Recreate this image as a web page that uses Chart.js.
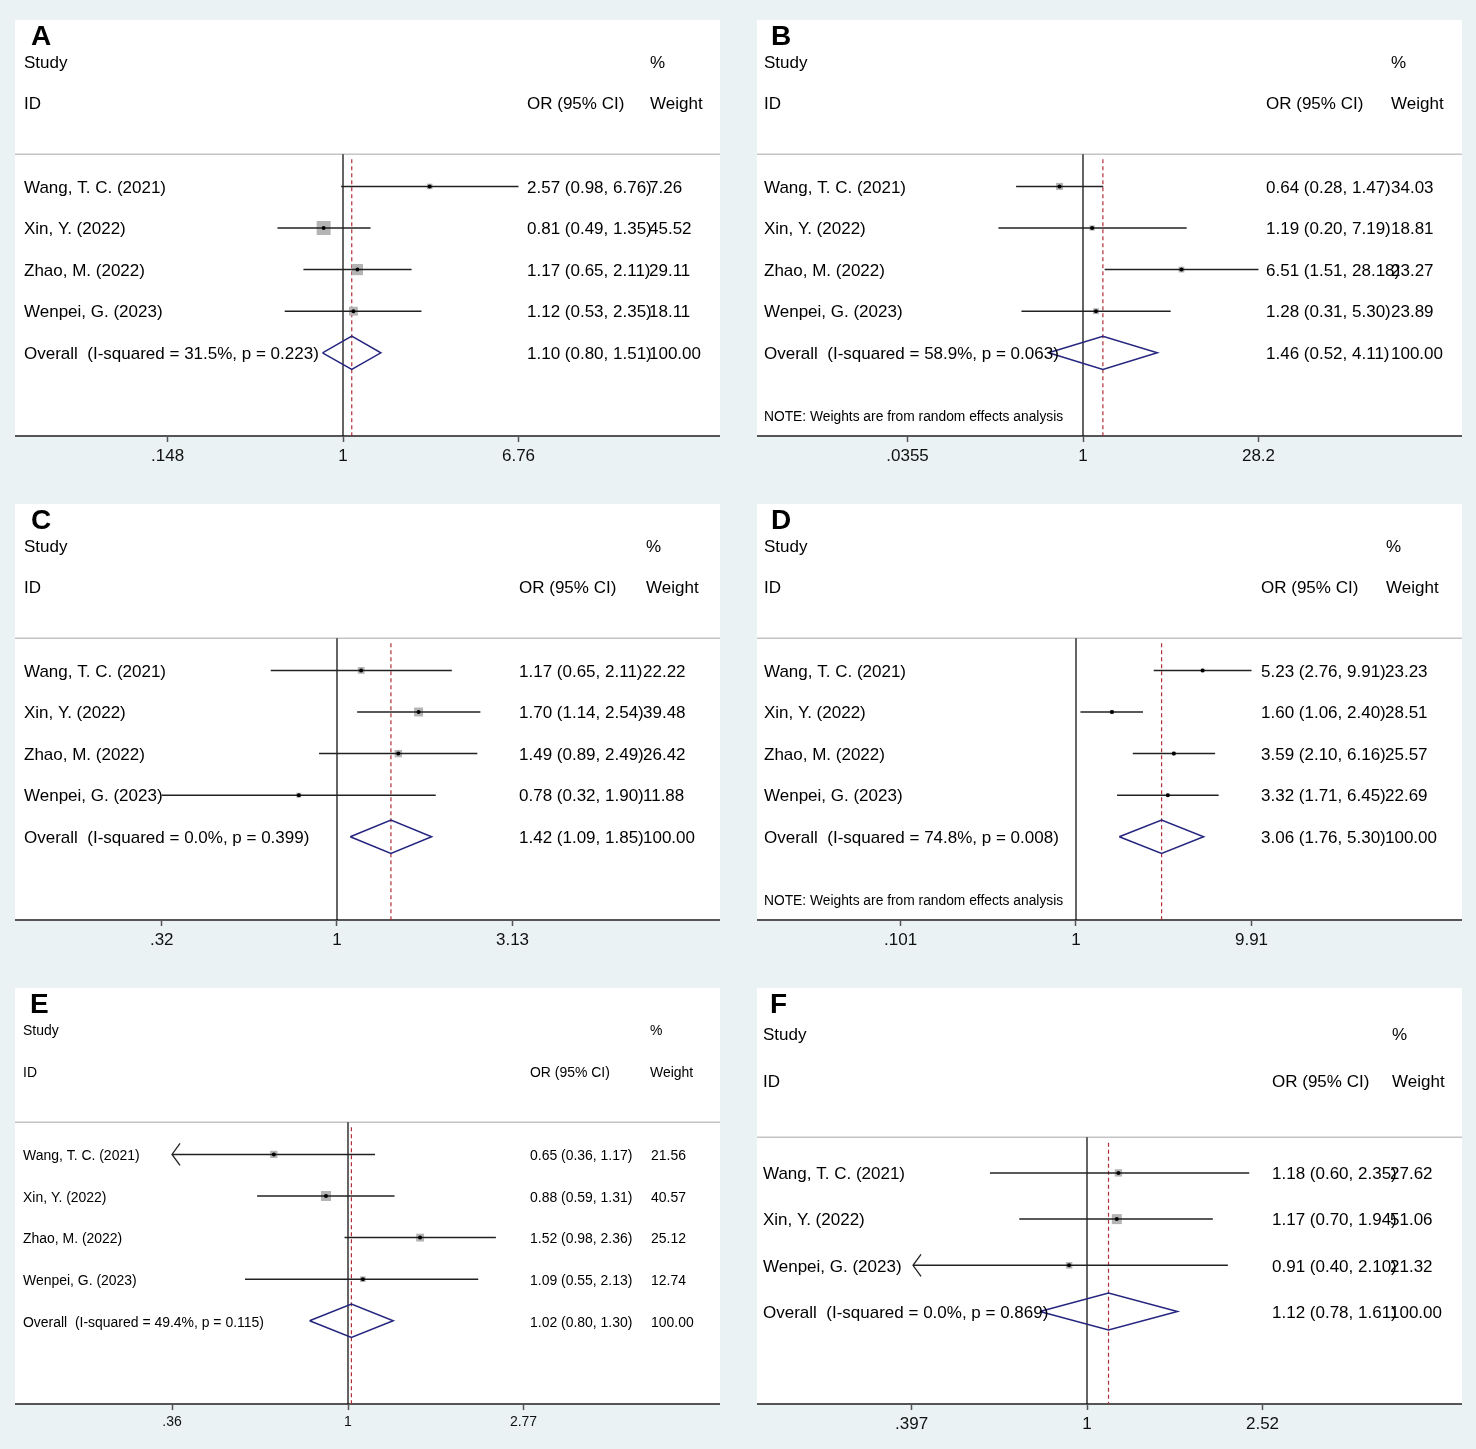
<!DOCTYPE html>
<html>
<head>
<meta charset="utf-8">
<title>Forest plots A-F</title>
<script src="https://cdn.jsdelivr.net/npm/chart.js@4.4.1/dist/chart.umd.min.js"></script>
<style>
  body { margin: 0; background: #eaf2f3; width: 1476px; height: 1449px; position: relative; overflow: hidden; }
  canvas { position: absolute; }
</style>
</head>
<body>
<script>
// ---- data ----
const panelNames = ['A', 'B', 'C', 'D', 'E', 'F'];
const studies = ['Wang, T. C. (2021)', 'Xin, Y. (2022)', 'Zhao, M. (2022)', 'Wenpei, G. (2023)'];
const studiesF = ['Wang, T. C. (2021)', 'Xin, Y. (2022)', 'Wenpei, G. (2023)'];
const panelStudies = [studies, studies, studies, studies, studies, studiesF];

const orValues = [
  [2.57, 0.81, 1.17, 1.12],
  [0.64, 1.19, 6.51, 1.28],
  [1.17, 1.70, 1.49, 0.78],
  [5.23, 1.60, 3.59, 3.32],
  [0.65, 0.88, 1.52, 1.09],
  [1.18, 1.17, 0.91]
];
const ciLower = [
  [0.98, 0.49, 0.65, 0.53],
  [0.28, 0.20, 1.51, 0.31],
  [0.65, 1.14, 0.89, 0.32],
  [2.76, 1.06, 2.10, 1.71],
  [0.36, 0.59, 0.98, 0.55],
  [0.60, 0.70, 0.40]
];
const ciUpper = [
  [6.76, 1.35, 2.11, 2.35],
  [1.47, 7.19, 28.18, 5.30],
  [2.11, 2.54, 2.49, 1.90],
  [9.91, 2.40, 6.16, 6.45],
  [1.17, 1.31, 2.36, 2.13],
  [2.35, 1.94, 2.10]
];
const weights = [
  [7.26, 45.52, 29.11, 18.11],
  [34.03, 18.81, 23.27, 23.89],
  [22.22, 39.48, 26.42, 11.88],
  [23.23, 28.51, 25.57, 22.69],
  [21.56, 40.57, 25.12, 12.74],
  [27.62, 51.06, 21.32]
];
const overallOr = [1.10, 1.46, 1.42, 3.06, 1.02, 1.12];
const overallLower = [0.80, 0.52, 1.09, 1.76, 0.80, 0.78];
const overallUpper = [1.51, 4.11, 1.85, 5.30, 1.30, 1.61];
const iSquared = ['31.5%', '58.9%', '0.0%', '74.8%', '49.4%', '0.0%'];
const pHet = ['0.223', '0.063', '0.399', '0.008', '0.115', '0.869'];
const randomEffects = [false, true, false, true, false, false];
const tickValues = [[0.148, 1, 6.76], [0.0355, 1, 28.2], [0.32, 1, 3.13], [0.101, 1, 9.91], [0.36, 1, 2.77], [0.397, 1, 2.52]];
const tickLabels = [['.148', '1', '6.76'], ['.0355', '1', '28.2'], ['.32', '1', '3.13'], ['.101', '1', '9.91'], ['.36', '1', '2.77'], ['.397', '1', '2.52']];
// studies whose lower CI runs past the axis (drawn with an arrow)
const arrowLow = [[], [], [], [], [0], [2]];

// ---- layout / style ----
const PANEL_W = 705, PANEL_H = 416, AXIS_H = 44, TICK_GAP = 175.5, SEP = -0.77;
const TEXT_DY = 1.5;
const FONT = '"Liberation Sans", Arial, sans-serif';
const layout = [
  { left: 15,  top: 20,  onePx: 328, nameX: 9, valX: 512, wtX: 634, headX: 635, size: 17,   sx: 1,   tick: 17, box: 2.07 },
  { left: 757, top: 20,  onePx: 326, nameX: 7, valX: 509, wtX: 634, headX: 634, size: 17,   sx: 1,   tick: 17, box: 1.2 },
  { left: 15,  top: 504, onePx: 322, nameX: 9, valX: 504, wtX: 628, headX: 631, size: 17,   sx: 1,   tick: 17, box: 1.43 },
  { left: 757, top: 504, onePx: 319, nameX: 7, valX: 504, wtX: 628, headX: 629, size: 17,   sx: 1,   tick: 17, box: 0.75 },
  { left: 15,  top: 988, onePx: 333, nameX: 8, valX: 515, wtX: 636, headX: 635, size: 15.5, sx: 0.9, tick: 14, box: 1.57 },
  { left: 757, top: 988, onePx: 330, nameX: 6, valX: 515, wtX: 633, headX: 635, size: 17,   sx: 1,   tick: 17, box: 1.4 }
];

function drawText(ctx, str, x, y, size, sx, bold) {
  ctx.save();
  ctx.font = (bold ? 'bold ' : '') + size + 'px ' + FONT;
  ctx.fillStyle = '#000';
  ctx.textBaseline = 'middle';
  ctx.translate(x, y + TEXT_DY);
  ctx.scale(sx, 1);
  ctx.fillText(str, 0, 0);
  ctx.restore();
}

const ci = (o, lo, hi) => `${o.toFixed(2)} (${lo.toFixed(2)}, ${hi.toFixed(2)})`;

const forestText = {
  id: 'forestText',
  beforeDraw(chart) {
    const { ctx, chartArea: a } = chart;
    ctx.save();
    ctx.fillStyle = '#fff';
    ctx.fillRect(a.left, a.top, a.right - a.left, a.bottom - a.top);
    const y = chart.scales.y.getPixelForValue(SEP);
    ctx.strokeStyle = '#c4c4c4';
    ctx.lineWidth = 1.5;
    ctx.beginPath();
    ctx.moveTo(a.left, y);
    ctx.lineTo(a.right, y);
    ctx.stroke();
    ctx.restore();
  },
  afterDatasetsDraw(chart, args, opts) {
    const p = opts.panel, L = layout[p];
    const { ctx, chartArea: a } = chart;
    const xs = chart.scales.x, ys = chart.scales.y;
    const n = orValues[p].length;
    const x0 = a.left;

    drawText(ctx, panelNames[p], x0 + L.nameX + 7, a.top + 15.5, 28, 1, true);
    drawText(ctx, 'Study', x0 + L.nameX, ys.getPixelForValue(-3), L.size, L.sx);
    drawText(ctx, '%', x0 + L.headX, ys.getPixelForValue(-3), L.size, L.sx);
    drawText(ctx, 'ID', x0 + L.nameX, ys.getPixelForValue(-2), L.size, L.sx);
    drawText(ctx, 'OR (95% CI)', x0 + L.valX, ys.getPixelForValue(-2), L.size, L.sx);
    drawText(ctx, 'Weight', x0 + L.headX, ys.getPixelForValue(-2), L.size, L.sx);

    panelStudies[p].forEach((name, i) => {
      const y = ys.getPixelForValue(i);
      drawText(ctx, name, x0 + L.nameX, y, L.size, L.sx);
      drawText(ctx, ci(orValues[p][i], ciLower[p][i], ciUpper[p][i]), x0 + L.valX, y, L.size, L.sx);
      drawText(ctx, weights[p][i].toFixed(2), x0 + L.wtX, y, L.size, L.sx);
    });
    const yo = ys.getPixelForValue(n);
    drawText(ctx, `Overall  (I-squared = ${iSquared[p]}, p = ${pHet[p]})`, x0 + L.nameX, yo, L.size, L.sx);
    drawText(ctx, ci(overallOr[p], overallLower[p], overallUpper[p]), x0 + L.valX, yo, L.size, L.sx);
    drawText(ctx, '100.00', x0 + L.wtX, yo, L.size, L.sx);

    if (randomEffects[p]) {
      drawText(ctx, 'NOTE: Weights are from random effects analysis', x0 + L.nameX, ys.getPixelForValue(n + 1.5), 14, 0.985);
    }

    // open arrow heads where the CI is cut by the axis
    ctx.save();
    ctx.strokeStyle = '#222';
    ctx.lineWidth = 1.3;
    arrowLow[p].forEach(i => {
      const tx = xs.getPixelForValue(ciLower[p][i]);
      const ty = ys.getPixelForValue(i);
      ctx.beginPath();
      ctx.moveTo(tx + 8, ty - 11);
      ctx.lineTo(tx, ty);
      ctx.lineTo(tx + 8, ty + 11);
      ctx.stroke();
    });
    ctx.restore();
  }
};

function buildDatasets(p) {
  const L = layout[p];
  const n = orValues[p].length, yMax = n + 2;
  const o = overallOr[p];
  const points = orValues[p].map((v, i) => ({ x: v, y: i }));
  const ds = [];
  ds.push({ order: 1, data: points, pointStyle: 'circle', pointRadius: 2, backgroundColor: '#000', borderWidth: 0 });
  ds.push({
    order: 2, showLine: true, pointRadius: 0, borderColor: '#25257f', borderWidth: 1.5,
    data: [
      { x: overallLower[p], y: n }, { x: o, y: n - 0.4 }, { x: overallUpper[p], y: n },
      { x: o, y: n + 0.4 }, { x: overallLower[p], y: n }
    ]
  });
  orValues[p].forEach((v, i) => {
    ds.push({
      order: 3, showLine: true, pointRadius: 0, borderColor: '#222', borderWidth: 1.5,
      data: [{ x: ciLower[p][i], y: i }, { x: ciUpper[p][i], y: i }]
    });
  });
  ds.push({
    order: 4, data: points, pointStyle: 'rect', borderWidth: 0, backgroundColor: '#b4b4b4',
    pointRadius: weights[p].map(w => L.box * Math.sqrt(w) / Math.SQRT2)
  });
  ds.push({
    order: 5, showLine: true, pointRadius: 0, borderColor: '#b0303a', borderWidth: 1.2, borderDash: [4, 3],
    data: [{ x: o, y: SEP + 0.12 }, { x: o, y: yMax }]
  });
  ds.push({
    order: 6, showLine: true, pointRadius: 0, borderColor: '#000', borderWidth: 1.2,
    data: [{ x: 1, y: SEP }, { x: 1, y: yMax }]
  });
  return ds;
}

panelNames.forEach((name, p) => {
  const L = layout[p];
  const n = orValues[p].length;
  const perPx = Math.log(tickValues[p][2]) / TICK_GAP;
  const canvas = document.createElement('canvas');
  canvas.width = PANEL_W;
  canvas.height = PANEL_H + AXIS_H;
  canvas.style.left = L.left + 'px';
  canvas.style.top = L.top + 'px';
  document.body.appendChild(canvas);

  new Chart(canvas, {
    type: 'scatter',
    data: { datasets: buildDatasets(p) },
    plugins: [forestText],
    options: {
      responsive: false,
      animation: false,
      events: [],
      layout: { padding: 0, autoPadding: false },
      plugins: {
        legend: { display: false },
        tooltip: { enabled: false },
        forestText: { panel: p }
      },
      scales: {
        x: {
          type: 'logarithmic',
          min: Math.exp(-L.onePx * perPx),
          max: Math.exp((PANEL_W - L.onePx) * perPx),
          afterBuildTicks: s => { s.ticks = tickValues[p].map(v => ({ value: v })); },
          afterFit: s => { s.height = AXIS_H; },
          ticks: {
            autoSkip: false, maxRotation: 0, padding: 4, color: '#111',
            font: { size: L.tick, family: FONT },
            callback: (v, i) => tickLabels[p][i]
          },
          grid: { drawOnChartArea: false, drawTicks: true, tickLength: 6, tickWidth: 1.5, color: '#555', tickColor: '#555' },
          border: { display: true, color: '#555', width: 2 }
        },
        y: { type: 'linear', display: false, reverse: true, min: -4, max: n + 2 }
      }
    }
  });
});
</script>
</body>
</html>
